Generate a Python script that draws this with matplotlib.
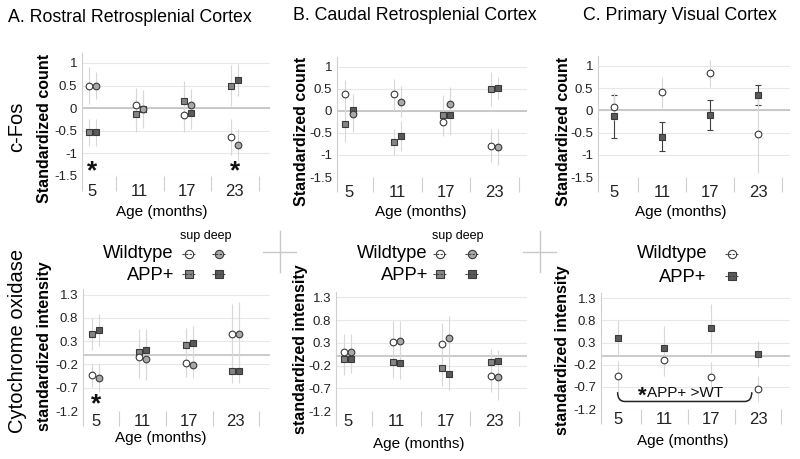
import matplotlib
matplotlib.use("Agg")
import matplotlib.pyplot as plt
from matplotlib.lines import Line2D
from matplotlib.patches import PathPatch
from matplotlib.path import Path

plt.rcParams["font.family"] = ["Liberation Sans", "DejaVu Sans"]
plt.rcParams["mathtext.fontset"] = "custom"
plt.rcParams["mathtext.rm"] = "Liberation Sans"
plt.rcParams["mathtext.bf"] = "Liberation Sans:bold"

W, H = 800, 459

AGES = [5, 11, 17, 23]
AGE_LABELS = ["5", "11", "17", "23"]

# c-Fos, standardized count
CFOS_TICKS = [-1.5, -1, -0.5, 0, 0.5, 1]
CFOS_TICKLABELS = ["-1.5", "-1", "-0.5", "0", "0.5", "1"]

rostral_cfos_wt_sup = [0.50, 0.06, -0.14, -0.63]
rostral_cfos_wt_sup_err = [0.40, 0.38, 0.38, 0.40]
rostral_cfos_wt_deep = [0.50, -0.02, 0.07, -0.81]
rostral_cfos_wt_deep_err = [0.30, 0.40, 0.35, 0.35]
rostral_cfos_app_sup = [-0.53, -0.13, 0.16, 0.50]
rostral_cfos_app_sup_err = [0.30, 0.40, 0.45, 0.45]
rostral_cfos_app_deep = [-0.53, -0.02, -0.10, 0.63]
rostral_cfos_app_deep_err = [0.30, 0.42, 0.35, 0.35]

caudal_cfos_wt_sup = [0.39, 0.37, -0.26, -0.79]
caudal_cfos_wt_sup_err = [0.30, 0.35, 0.32, 0.38]
caudal_cfos_wt_deep = [-0.07, 0.21, 0.15, -0.82]
caudal_cfos_wt_deep_err = [0.40, 0.35, 0.40, 0.40]
caudal_cfos_app_sup = [-0.29, -0.71, -0.10, 0.49]
caudal_cfos_app_sup_err = [0.42, 0.30, 0.45, 0.38]
caudal_cfos_app_deep = [0.02, -0.57, -0.10, 0.51]
caudal_cfos_app_deep_err = [0.35, 0.35, 0.45, 0.25]

visual_cfos_wt = [0.08, 0.40, 0.83, -0.53]
visual_cfos_wt_err = [0.30, 0.35, 0.30, 0.88]
visual_cfos_app = [-0.14, -0.59, -0.11, 0.34]
visual_cfos_app_err = [0.49, 0.33, 0.33, 0.23]

# cytochrome oxidase, standardized intensity
CO_TICKS = [-1.2, -0.7, -0.2, 0.3, 0.8, 1.3]
CO_TICKLABELS = ["-1.2", "-0.7", "-0.2", "0.3", "0.8", "1.3"]

rostral_co_wt_sup = [-0.43, -0.04, -0.16, 0.45]
rostral_co_wt_sup_err = [0.25, 0.45, 0.30, 0.65]
rostral_co_wt_deep = [-0.50, -0.08, -0.21, 0.45]
rostral_co_wt_deep_err = [0.30, 0.45, 0.28, 0.70]
rostral_co_app_sup = [0.45, 0.07, 0.21, -0.34]
rostral_co_app_sup_err = [0.35, 0.50, 0.38, 0.25]
rostral_co_app_deep = [0.54, 0.12, 0.25, -0.34]
rostral_co_app_deep_err = [0.35, 0.45, 0.38, 0.25]

caudal_co_wt_sup = [0.10, 0.31, 0.28, -0.43]
caudal_co_wt_sup_err = [0.40, 0.48, 0.45, 0.35]
caudal_co_wt_deep = [0.10, 0.34, 0.41, -0.45]
caudal_co_wt_deep_err = [0.40, 0.45, 0.48, 0.50]
caudal_co_app_sup = [-0.06, -0.12, -0.25, -0.13]
caudal_co_app_sup_err = [0.35, 0.35, 0.40, 0.30]
caudal_co_app_deep = [-0.06, -0.15, -0.39, -0.11]
caudal_co_app_deep_err = [0.30, 0.35, 0.35, 0.25]

visual_co_wt = [-0.46, -0.10, -0.48, -0.75]
visual_co_wt_err = [0.35, 0.35, 0.35, 0.30]
visual_co_app = [0.41, 0.17, 0.62, 0.04]
visual_co_app_err = [0.40, 0.50, 0.55, 0.30]

# styling
EDGE = "#3a3a3a"
WT_SUP_FC = "white"
WT_DEEP_FC = "#a8a8a8"
APP_SUP_FC = "#858585"
APP_DEEP_FC = "#5a5a5a"
ERR_LIGHT = "#d8d8d8"
ERR_DARK = "#404040"
GRID = "#e8e8e8"
ZERO = "#bdbdbd"
AXIS_GRAY = "#cfcfcf"
OFF = 0.45
MS = 4.8
STAR = r"$\mathbf{*}$"


def fx(x):
    return x / W


def fy(y):
    return 1 - y / H


def make_axes(fig, left, right, top, bottom, xlim, ylim, yticks, yticklabels, xpad):
    ax = fig.add_axes([fx(left), fy(bottom), (right - left) / W, (bottom - top) / H])
    ax.set_xlim(*xlim)
    ax.set_ylim(*ylim)
    for s in ("top", "right", "bottom"):
        ax.spines[s].set_visible(False)
    ax.spines["left"].set_color(AXIS_GRAY)
    ax.spines["left"].set_linewidth(0.8)
    ax.set_yticks(yticks)
    ax.set_yticklabels(yticklabels)
    ax.tick_params(axis="y", length=0, pad=3.5, labelsize=9.5, labelcolor="#222222")
    for t in yticks:
        ax.axhline(t, color=GRID, lw=0.8, zorder=0)
    ax.axhline(0, color=ZERO, lw=1.1, zorder=0.5)
    ax.set_xticks(AGES)
    ax.set_xticklabels(AGE_LABELS)
    ax.set_xticks([xlim[0], 8, 14, 20, 26], minor=True)
    ax.tick_params(axis="x", which="major", length=0, pad=xpad, labelsize=12,
                   labelcolor="#222222")
    ax.tick_params(axis="x", which="minor", length=11, width=0.8, color=AXIS_GRAY)
    return ax


def series(ax, x, y, err, marker, fc, ecolor=ERR_LIGHT, capsize=0):
    ax.errorbar(x, y, yerr=err, fmt="none", ecolor=ecolor, elinewidth=0.8,
                capsize=capsize, capthick=0.8, zorder=1)
    ax.plot(x, y, ls="none", marker=marker, ms=MS, mfc=fc, mec=EDGE, mew=0.8,
            zorder=3)


def four_series(ax, wt_sup, wt_sup_e, wt_deep, wt_deep_e,
                app_sup, app_sup_e, app_deep, app_deep_e):
    xs = [a - OFF for a in AGES]
    xd = [a + OFF for a in AGES]
    series(ax, xs, app_sup, app_sup_e, "s", APP_SUP_FC)
    series(ax, xd, app_deep, app_deep_e, "s", APP_DEEP_FC)
    series(ax, xs, wt_sup, wt_sup_e, "o", WT_SUP_FC)
    series(ax, xd, wt_deep, wt_deep_e, "o", WT_DEEP_FC)


def legend_item(fig, xc, yc, marker, fc):
    fig.add_artist(Line2D([fx(xc)], [fy(yc)], ls="none", marker=marker, ms=6,
                          mfc=fc, mec=EDGE, mew=0.8))
    fig.add_artist(Line2D([fx(xc - 7), fx(xc + 7)], [fy(yc), fy(yc)],
                          color="#404040", lw=0.8, ls=(0, (2, 1.2))))


def ftext(fig, x, y, s, **kw):
    fig.text(fx(x), fy(y), s, **kw)


fig = plt.figure(figsize=(8.0, 4.59), dpi=100)

# ---- top row: c-Fos ----
axA = make_axes(fig, 82, 270, 53, 176, (3.7, 27.45), (-1.5, 1.22),
                CFOS_TICKS, CFOS_TICKLABELS, 6)
four_series(axA, rostral_cfos_wt_sup, rostral_cfos_wt_sup_err,
            rostral_cfos_wt_deep, rostral_cfos_wt_deep_err,
            rostral_cfos_app_sup, rostral_cfos_app_sup_err,
            rostral_cfos_app_deep, rostral_cfos_app_deep_err)
for age in (5, 23):
    axA.text(age, -1.38, STAR, ha="center", va="center", fontsize=19,
             color="#111111")

axB = make_axes(fig, 337, 527, 57, 177, (3.5, 27.0), (-1.5, 1.22),
                CFOS_TICKS, CFOS_TICKLABELS, 6)
four_series(axB, caudal_cfos_wt_sup, caudal_cfos_wt_sup_err,
            caudal_cfos_wt_deep, caudal_cfos_wt_deep_err,
            caudal_cfos_app_sup, caudal_cfos_app_sup_err,
            caudal_cfos_app_deep, caudal_cfos_app_deep_err)

axC = make_axes(fig, 598, 790, 56, 177, (2.96, 27.0), (-1.5, 1.22),
                CFOS_TICKS, CFOS_TICKLABELS, 6)
series(axC, AGES, visual_cfos_app, visual_cfos_app_err, "s", APP_DEEP_FC,
       ecolor=ERR_DARK, capsize=2)
series(axC, AGES, visual_cfos_wt, visual_cfos_wt_err, "o", WT_SUP_FC)

# ---- bottom row: cytochrome oxidase ----
axD = make_axes(fig, 83, 270, 289, 411, (3.33, 27.4), (-1.2, 1.42),
                CO_TICKS, CO_TICKLABELS, 2.5)
four_series(axD, rostral_co_wt_sup, rostral_co_wt_sup_err,
            rostral_co_wt_deep, rostral_co_wt_deep_err,
            rostral_co_app_sup, rostral_co_app_sup_err,
            rostral_co_app_deep, rostral_co_app_deep_err)
axD.text(5.0, -1.04, STAR, ha="center", va="center", fontsize=19,
         color="#111111")

axE = make_axes(fig, 336, 527, 292, 411, (3.56, 27.0), (-1.2, 1.42),
                CO_TICKS, CO_TICKLABELS, 2.5)
four_series(axE, caudal_co_wt_sup, caudal_co_wt_sup_err,
            caudal_co_wt_deep, caudal_co_wt_deep_err,
            caudal_co_app_sup, caudal_co_app_sup_err,
            caudal_co_app_deep, caudal_co_app_deep_err)

axF = make_axes(fig, 601, 790, 293, 409, (2.87, 27.1), (-1.2, 1.42),
                CO_TICKS, CO_TICKLABELS, 2.5)
series(axF, AGES, visual_co_app, visual_co_app_err, "s", APP_DEEP_FC)
series(axF, AGES, visual_co_wt, visual_co_wt_err, "o", WT_SUP_FC)

# brace: APP+ > WT across all ages
brace = Path([(5.0, -0.82), (5.0, -1.03), (5.9, -1.03), (21.3, -1.03),
              (22.2, -1.03), (22.2, -0.82)],
             [Path.MOVETO, Path.CURVE3, Path.CURVE3, Path.LINETO,
              Path.CURVE3, Path.CURVE3])
axF.add_patch(PathPatch(brace, fc="none", ec="#222222", lw=1.1, zorder=4))
ftext(fig, 642, 395, STAR, ha="center", va="center", fontsize=16,
      color="#111111")
ftext(fig, 647, 393, "APP+ >WT", ha="left", va="center", fontsize=11,
      color="#111111")

# ---- titles and labels ----
ftext(fig, 8, 18, "A. Rostral Retrosplenial Cortex", ha="left", va="center",
      fontsize=12.8)
ftext(fig, 293, 15, "B. Caudal Retrosplenial Cortex", ha="left", va="center",
      fontsize=12.8)
ftext(fig, 583, 15, "C. Primary Visual Cortex", ha="left", va="center",
      fontsize=12.8)

ftext(fig, 17, 127, "c-Fos", rotation=90, ha="center", va="center", fontsize=14.5)
ftext(fig, 18, 341, "Cytochrome oxidase", rotation=90, ha="center", va="center",
      fontsize=14.5)

for x, y in [(45, 128), (302, 131), (563, 131)]:
    ftext(fig, x, y, "Standardized count", rotation=90, ha="center",
          va="center", fontsize=11.5, fontweight="bold")
for x, y in [(45, 346), (300, 349), (562, 350)]:
    ftext(fig, x, y, "standardized intensity", rotation=90, ha="center",
          va="center", fontsize=11.5, fontweight="bold")

for x, y in [(162, 212), (421, 212), (681, 212), (161, 438), (419, 444),
             (683, 441)]:
    ftext(fig, x, y, "Age (months)", ha="center", va="center", fontsize=11)

# ---- legends ----
for x_text, x_sup, x_deep in [(174, 189, 219), (428, 440, 472)]:
    ftext(fig, (x_sup + x_deep) / 2 + 2, 236, "sup deep", ha="center",
          va="center", fontsize=9)
    ftext(fig, x_text, 253, "Wildtype", ha="right", va="center", fontsize=13.2)
    ftext(fig, x_text, 275, "APP+", ha="right", va="center", fontsize=13.2)
    legend_item(fig, x_sup, 254, "o", WT_SUP_FC)
    legend_item(fig, x_deep, 254, "o", WT_DEEP_FC)
    legend_item(fig, x_sup, 274, "s", APP_SUP_FC)
    legend_item(fig, x_deep, 274, "s", APP_DEEP_FC)

ftext(fig, 708, 253, "Wildtype", ha="right", va="center", fontsize=13.2)
ftext(fig, 706, 277, "APP+", ha="right", va="center", fontsize=13.2)
legend_item(fig, 732, 254, "o", WT_SUP_FC)
legend_item(fig, 732, 276, "s", APP_DEEP_FC)

# stray crosshair marks between panels
for cx, cy in [(280, 252), (540, 252)]:
    fig.add_artist(Line2D([fx(cx - 17), fx(cx + 16)], [fy(cy), fy(cy)],
                          color="#c8c8c8", lw=1))
    fig.add_artist(Line2D([fx(cx), fx(cx)], [fy(cy - 21), fy(cy + 20)],
                          color="#c8c8c8", lw=1))

fig.savefig("out.png", dpi=100)
